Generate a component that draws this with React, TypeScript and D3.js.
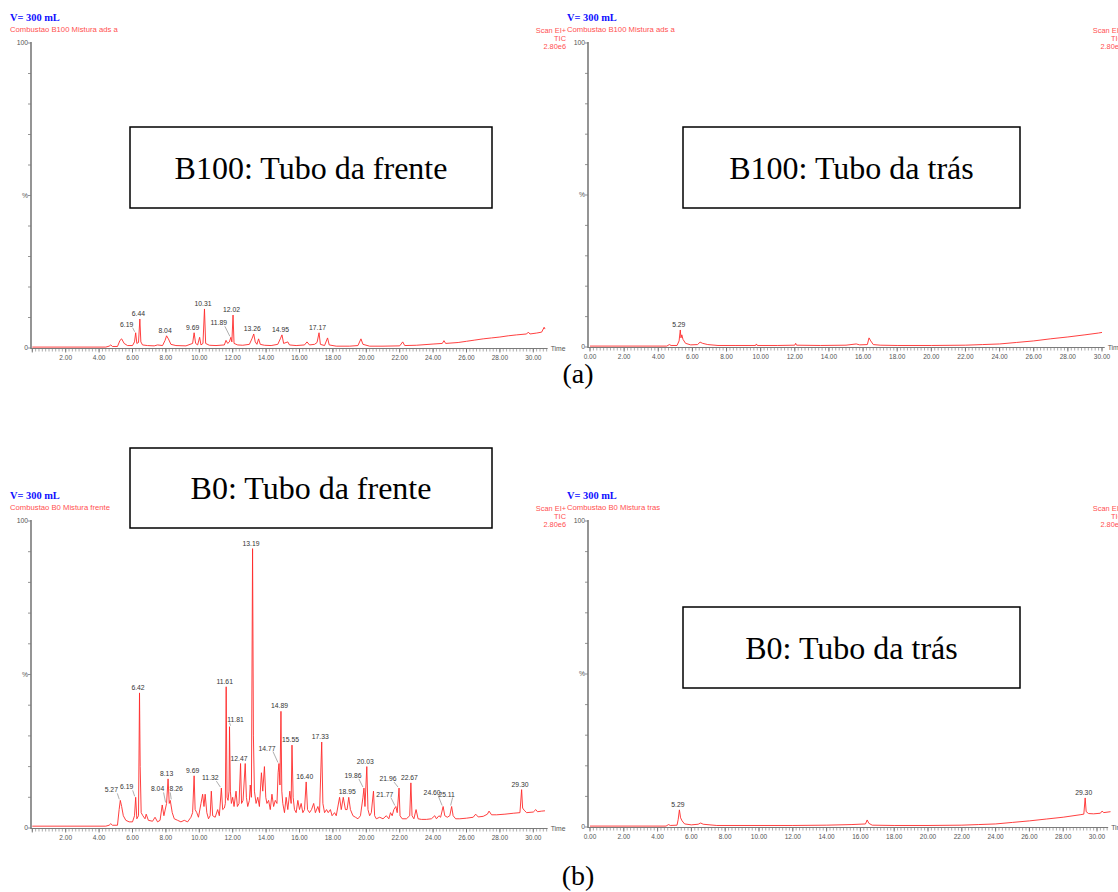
import React, { useRef, useEffect } from 'react'
import * as d3 from 'd3'

// chromatograms: [retention time (min), intensity (%)]
const b100FrontTrace: [number, number][] = [
  [0, 0.3], [4.4, 0.3], [4.6, 0.6], [4.7, 1.0], [4.8, 0.5], [5.1, 0.5], [5.25, 2.5], [5.35, 3],
  [5.5, 1.5], [5.7, 0.8], [6.0, 0.8], [6.12, 2], [6.19, 5], [6.26, 1.5], [6.36, 1.8], [6.44, 9.5],
  [6.5, 2], [6.6, 1], [6.9, 0.8], [7.3, 0.7], [7.5, 1], [7.8, 0.8], [7.95, 2.5], [8.04, 4], [8.15, 3],
  [8.3, 1.2], [8.6, 0.8], [9.2, 0.7], [9.6, 1.5], [9.69, 5], [9.78, 1.5], [9.9, 1], [10.02, 3.5],
  [10.1, 1], [10.22, 1.5], [10.31, 12.8], [10.38, 1.5], [10.6, 0.9], [11.0, 0.8], [11.5, 1],
  [11.6, 2.5], [11.7, 1.5], [11.8, 2], [11.89, 3.5], [11.95, 2], [12.02, 10.8], [12.08, 1.5],
  [12.3, 1], [12.6, 0.9], [13.0, 1.2], [13.15, 3], [13.26, 4.6], [13.35, 2], [13.45, 1.2],
  [13.55, 3], [13.65, 1.2], [13.9, 0.9], [14.3, 0.8], [14.7, 1.2], [14.85, 3], [14.95, 4.3],
  [15.05, 1.5], [15.3, 2], [15.4, 1], [15.8, 0.8], [16.3, 1], [16.45, 2], [16.6, 1], [16.9, 1.2],
  [17.05, 1.8], [17.17, 5], [17.25, 1.2], [17.5, 0.8], [17.68, 3.3], [17.78, 1], [18.2, 0.6],
  [19.0, 0.6], [19.5, 0.8], [19.68, 3], [19.8, 1.2], [20.2, 0.6], [21.0, 0.6], [22.0, 0.7],
  [22.18, 2], [22.3, 0.8], [23.0, 0.9], [24.0, 1.3], [24.55, 1.5], [24.65, 2.4], [24.75, 1.5],
  [25.5, 1.8], [26, 2.2], [26.5, 2.6], [27, 3], [27.5, 3.3], [28, 3.6], [28.5, 4], [29, 4.3],
  [29.6, 4.6], [29.7, 5.2], [29.8, 4.6], [30.2, 4.9], [30.5, 5.2], [30.65, 6.8], [30.7, 6.2],
]

const b100BackTrace: [number, number][] = [
  [0, 0.3], [4.5, 0.3], [4.65, 0.8], [4.75, 0.5], [5.1, 0.5], [5.22, 2], [5.29, 5.6], [5.33, 3],
  [5.38, 4], [5.45, 2.5], [5.6, 1.2], [5.9, 0.7], [6.3, 0.8], [6.45, 1.6], [6.6, 1.2], [6.9, 0.8],
  [7.5, 0.5], [8.5, 0.5], [9.7, 0.5], [9.75, 1], [9.8, 0.5], [11.0, 0.5], [12.0, 0.6], [12.05, 1.2],
  [12.1, 0.6], [13.5, 0.5], [15.0, 0.6], [15.6, 1], [15.8, 0.7], [16.25, 0.8], [16.35, 3],
  [16.45, 2], [16.6, 0.8], [17, 0.6], [18, 0.5], [20, 0.5], [22, 0.6], [23, 0.8], [24, 1],
  [25, 1.5], [26, 2], [27, 2.7], [28, 3.3], [29, 4], [29.8, 4.6], [30, 4.8],
]

const b0FrontTrace: [number, number][] = [
  [0, 0.6], [4.4, 0.6], [4.6, 0.9], [4.7, 1.4], [4.8, 0.9], [5.1, 0.9], [5.2, 6], [5.27, 9],
  [5.35, 7], [5.45, 4], [5.6, 2.5], [5.8, 2], [6.0, 2], [6.12, 4], [6.19, 10], [6.26, 3], [6.36, 4],
  [6.42, 44], [6.46, 20], [6.52, 5], [6.62, 4], [6.75, 3], [6.82, 4.5], [6.95, 2.5], [7.2, 2.2],
  [7.35, 3.5], [7.5, 2], [7.65, 2.5], [7.78, 7.5], [7.88, 4], [8.04, 8], [8.13, 16], [8.2, 8],
  [8.26, 9], [8.38, 5], [8.5, 3], [8.7, 2.5], [8.9, 2], [9.1, 2.5], [9.3, 2], [9.5, 3.5], [9.6, 5],
  [9.69, 17], [9.75, 6], [9.85, 5], [9.95, 3.5], [10.1, 8], [10.2, 11], [10.28, 7], [10.35, 11],
  [10.45, 5], [10.55, 3], [10.65, 4], [10.72, 12], [10.8, 4], [10.95, 3.5], [11.1, 6], [11.2, 4],
  [11.32, 13], [11.4, 6], [11.5, 6.5], [11.56, 8], [11.61, 46], [11.66, 10], [11.72, 9],
  [11.78, 12], [11.81, 33], [11.86, 12], [11.92, 8], [12.0, 10], [12.08, 7], [12.2, 12],
  [12.28, 7], [12.38, 8], [12.47, 21], [12.53, 8], [12.62, 9], [12.75, 21], [12.82, 10], [12.9, 7],
  [13.0, 9], [13.05, 14], [13.12, 10], [13.19, 91], [13.24, 30], [13.3, 12], [13.4, 8], [13.5, 10],
  [13.6, 7], [13.72, 18], [13.8, 12], [13.9, 20], [13.98, 10], [14.05, 8], [14.15, 9], [14.25, 6],
  [14.35, 11], [14.45, 7], [14.55, 9], [14.65, 8], [14.72, 18], [14.77, 21], [14.83, 14],
  [14.89, 38], [14.94, 12], [15.0, 8], [15.1, 5], [15.2, 10], [15.3, 6], [15.42, 12], [15.5, 8],
  [15.55, 27], [15.62, 10], [15.7, 6], [15.8, 5], [15.9, 9], [16.0, 6], [16.1, 8], [16.2, 5],
  [16.3, 6], [16.4, 15], [16.48, 6], [16.6, 5], [16.72, 6], [16.85, 8], [16.95, 5], [17.1, 7],
  [17.2, 5], [17.33, 28], [17.4, 8], [17.5, 5], [17.62, 6], [17.72, 5], [17.85, 6], [17.95, 4],
  [18.1, 5], [18.2, 4], [18.4, 10], [18.5, 6], [18.62, 10], [18.75, 6], [18.85, 6], [18.95, 10],
  [19.05, 6], [19.2, 4], [19.35, 3.5], [19.5, 3], [19.65, 4], [19.8, 10], [19.86, 13], [19.92, 7],
  [20.03, 20], [20.1, 6], [20.2, 4], [20.3, 5], [20.43, 12], [20.5, 4], [20.6, 3], [20.8, 3.5],
  [21.0, 3], [21.2, 4], [21.35, 3], [21.45, 5], [21.55, 4], [21.65, 6], [21.77, 7], [21.85, 5],
  [21.96, 13], [22.02, 4], [22.15, 3], [22.4, 3], [22.6, 4], [22.67, 14.7], [22.74, 4], [22.85, 3],
  [22.98, 6], [23.1, 3], [23.3, 2.8], [23.6, 2.8], [23.9, 3], [24.1, 4], [24.2, 3], [24.35, 4],
  [24.45, 3.5], [24.6, 7], [24.7, 4], [24.85, 3.5], [25.0, 4], [25.11, 7], [25.2, 4], [25.35, 3],
  [25.6, 3], [26, 3.2], [26.4, 3.5], [26.55, 4.5], [26.7, 3.6], [27.0, 3.8], [27.25, 4.5],
  [27.35, 5.5], [27.5, 4.3], [27.8, 4.3], [28.3, 4.5], [28.8, 4.8], [29.2, 5], [29.3, 12.5],
  [29.36, 6.5], [29.45, 5.8], [29.6, 5], [30.0, 5.2], [30.15, 6], [30.25, 5.3], [30.5, 5.5],
  [30.7, 5.6],
]

const b0BackTrace: [number, number][] = [
  [0, 0.3], [4.5, 0.3], [4.65, 0.8], [4.75, 0.5], [5.15, 0.6], [5.22, 2.5], [5.29, 5.6], [5.36, 3],
  [5.45, 2], [5.6, 1], [6.0, 0.7], [6.4, 0.9], [6.55, 1.3], [6.7, 0.9], [7.5, 0.5], [10, 0.5],
  [12, 0.5], [14, 0.6], [15.5, 0.8], [16.3, 1], [16.4, 2.3], [16.5, 1.2], [16.7, 0.6], [18, 0.5],
  [20, 0.5], [22, 0.6], [23, 0.8], [24, 1], [25, 1.5], [26, 2], [27, 2.6], [28, 3.2], [29, 4],
  [29.22, 4.2], [29.3, 9.5], [29.36, 5], [29.5, 4.4], [29.8, 4.3], [30.2, 4.5], [30.3, 5.2],
  [30.4, 4.7], [30.8, 5],
]

// labelled peaks
const b100FrontPeaks = ['6.19', '6.44', '8.04', '9.69', '10.31', '11.89', '12.02', '13.26', '14.95', '17.17']
const b100BackPeaks = ['5.29']
const b0FrontPeaks = [
  '5.27', '6.19', '6.42', '8.04', '8.13', '8.26', '9.69', '11.32', '11.61', '11.81', '12.47', '13.19',
  '14.77', '14.89', '15.55', '16.40', '17.33', '18.95', '19.86', '20.03', '21.77', '21.96', '22.67',
  '24.60', '25.11', '29.30',
]
const b0BackPeaks = ['5.29', '29.30']

const xMajorTicks = d3.range(0, 31, 2)
const xMinorTicks = d3.range(0, 30.81, 0.2)
const yTicks = d3.range(0, 101, 10)
const yTickLabels: Record<number, string> = { 0: '0', 50: '%', 100: '100' }

// label offsets from the peak top (those pushed aside get a leader line)
const labelShift: Record<string, [number, number]> = {
  'b100f 6.19': [-9, -3], 'b100f 11.89': [-12, -9],
  'b0f 5.27': [-9, -5], 'b0f 6.19': [-9, -5], 'b0f 8.04': [-9, -9], 'b0f 8.26': [6, -6],
  'b0f 11.32': [-11, -5], 'b0f 11.81': [6, -2], 'b0f 14.77': [-12, -10], 'b0f 19.86': [-11, -7],
  'b0f 21.77': [-11, -7], 'b0f 21.96': [-11, -4], 'b0f 24.60': [-11, -9], 'b0f 25.11': [-5, -7],
}

const panels = [
  { key: 'b100f', trace: b100FrontTrace, peaks: b100FrontPeaks, title: 'Combustao B100 Mistura ads a', axisX: 31, x0: 32.3, x30: 533.3, end: 30.8, top: 43, bottom: 348, zeroLabel: false },
  { key: 'b100t', trace: b100BackTrace, peaks: b100BackPeaks, title: 'Combustao B100 Mistura ads a', axisX: 588, x0: 590, x30: 1102, end: 30.1, top: 43, bottom: 347, zeroLabel: true },
  { key: 'b0f', trace: b0FrontTrace, peaks: b0FrontPeaks, title: 'Combustao B0 Mistura frente', axisX: 31, x0: 32.3, x30: 533.3, end: 30.8, top: 521, bottom: 828, zeroLabel: false },
  { key: 'b0t', trace: b0BackTrace, peaks: b0BackPeaks, title: 'Combustao B0 Mistura tras', axisX: 588, x0: 590, x30: 1097, end: 30.6, top: 521, bottom: 827, zeroLabel: true },
]

const boxes = [
  { text: 'B100: Tubo da frente', x: 130, y: 127, w: 362, h: 81 },
  { text: 'B100: Tubo da trás', x: 683, y: 127, w: 337, h: 81 },
  { text: 'B0: Tubo da frente', x: 130, y: 448, w: 362, h: 80 },
  { text: 'B0: Tubo da trás', x: 683, y: 607, w: 337, h: 81 },
]

const captions = [
  { text: '(a)', x: 578, y: 375 },
  { text: '(b)', x: 578, y: 877 },
]

const SANS = 'Arial, "Liberation Sans", sans-serif'
const SERIF = '"Times New Roman", "Liberation Serif", serif'

function App() {
  const svgRef = useRef<SVGSVGElement>(null)

  useEffect(() => {
    const svg = d3.select(svgRef.current)
    svg.selectAll('*').remove()
    svg.append('rect').attr('width', 1118).attr('height', 892).attr('fill', '#fff')

    panels.forEach((p) => {
      const g = svg.append('g')
      const x = d3.scaleLinear().domain([0, 30]).range([p.x0, p.x30])
      const y = d3.scaleLinear().domain([0, 100]).range([p.bottom, p.top])
      const axisEnd = x(p.end) + 1

      // header texts
      g.append('text')
        .attr('x', p.axisX - 21).attr('y', p.top - 22)
        .attr('font-family', SERIF).attr('font-weight', 'bold').attr('font-size', 10.4)
        .attr('fill', '#1010ff').text('V= 300 mL')
      g.append('text')
        .attr('x', p.axisX - 21).attr('y', p.top - 11.5)
        .attr('font-family', SANS).attr('font-size', 7.7)
        .attr('fill', '#ff5050').text(p.title)
      ;['Scan EI+', 'TIC', '2.80e6'].forEach((t, i) => {
        g.append('text')
          .attr('x', p.axisX + 535).attr('y', p.top - 10.5 + i * 8)
          .attr('text-anchor', 'end')
          .attr('font-family', SANS).attr('font-size', 7.4)
          .attr('fill', '#ff5050').text(t)
      })

      // y axis
      g.append('line')
        .attr('x1', p.axisX).attr('x2', p.axisX)
        .attr('y1', y(100) - 1).attr('y2', p.bottom + 1)
        .attr('stroke', '#7a7a7a').attr('stroke-width', 1.6)
      g.selectAll('.ytick').data(yTicks).join('line')
        .attr('x1', p.axisX - 3).attr('x2', p.axisX)
        .attr('y1', (d) => y(d)).attr('y2', (d) => y(d))
        .attr('stroke', '#7a7a7a').attr('stroke-width', 0.8)
      g.selectAll('.ylab').data(yTicks.filter((d) => yTickLabels[d] !== undefined)).join('text')
        .attr('x', p.axisX - 3).attr('y', (d) => y(d) + 2.2)
        .attr('text-anchor', 'end')
        .attr('font-family', SANS).attr('font-size', 6.8)
        .attr('fill', '#555').text((d) => yTickLabels[d])

      // x axis
      g.append('line')
        .attr('x1', p.axisX).attr('x2', axisEnd)
        .attr('y1', p.bottom + 0.5).attr('y2', p.bottom + 0.5)
        .attr('stroke', '#7a7a7a').attr('stroke-width', 1.2)
      g.selectAll('.xminor').data(xMinorTicks.filter((d) => d <= p.end)).join('line')
        .attr('x1', (d) => x(d)).attr('x2', (d) => x(d))
        .attr('y1', p.bottom + 1).attr('y2', p.bottom + 3.5)
        .attr('stroke', '#888').attr('stroke-width', 0.7)
      g.selectAll('.xmajor').data(xMajorTicks).join('line')
        .attr('x1', (d) => x(d)).attr('x2', (d) => x(d))
        .attr('y1', p.bottom + 1).attr('y2', p.bottom + 4.5)
        .attr('stroke', '#666').attr('stroke-width', 0.8)
      g.selectAll('.xlab').data(xMajorTicks.filter((d) => p.zeroLabel || d > 0)).join('text')
        .attr('x', (d) => x(d)).attr('y', p.bottom + 11.5)
        .attr('text-anchor', 'middle')
        .attr('font-family', SANS).attr('font-size', 6.5)
        .attr('fill', '#555').text((d) => d3.format('.2f')(d))
      g.append('text')
        .attr('x', axisEnd + 3).attr('y', p.bottom + 2.5)
        .attr('font-family', SANS).attr('font-size', 6.8)
        .attr('fill', '#555').text('Time')

      // trace
      const line = d3.line<[number, number]>().x((d) => x(d[0])).y((d) => y(d[1]))
      g.append('path')
        .attr('d', line(p.trace))
        .attr('fill', 'none').attr('stroke', '#ff2a2a')
        .attr('stroke-width', 0.9).attr('stroke-linejoin', 'round')

      // peak labels
      p.peaks.forEach((lab) => {
        const t = +lab
        const pt = d3.least(p.trace, (d) => Math.abs(d[0] - t))!
        const px = x(pt[0])
        const py = y(pt[1])
        const shift = labelShift[`${p.key} ${lab}`]
        const [dx, dy] = shift ?? [-1.5, 0]
        const lx = px + dx
        const ly = py - 3 + dy
        if (shift && Math.abs(dx) > 4) {
          const ex = dx < 0 ? lx + 6 : lx - 6
          g.append('line')
            .attr('x1', ex).attr('y1', ly + 1)
            .attr('x2', px + (dx < 0 ? -1 : 1)).attr('y2', py - 1)
            .attr('stroke', '#777').attr('stroke-width', 0.6)
        }
        g.append('text')
          .attr('x', lx).attr('y', ly)
          .attr('text-anchor', 'middle')
          .attr('font-family', SANS).attr('font-size', 6.8)
          .attr('fill', '#333').text(lab)
      })
    })

    // annotation boxes
    boxes.forEach((b) => {
      svg.append('rect')
        .attr('x', b.x).attr('y', b.y).attr('width', b.w).attr('height', b.h)
        .attr('fill', '#fff').attr('stroke', '#000').attr('stroke-width', 1.5)
      svg.append('text')
        .attr('x', b.x + b.w / 2).attr('y', b.y + b.h / 2 + 11)
        .attr('text-anchor', 'middle')
        .attr('font-family', SERIF).attr('font-size', 32)
        .attr('fill', '#000').text(b.text)
    })

    captions.forEach((c) => {
      svg.append('text')
        .attr('x', c.x).attr('y', c.y + 8)
        .attr('text-anchor', 'middle')
        .attr('font-family', SERIF).attr('font-size', 28)
        .attr('fill', '#000').text(c.text)
    })
  }, [])

  return (
    <svg
      ref={svgRef}
      width={1118}
      height={892}
      style={{ position: 'absolute', left: 0, top: 0, display: 'block' }}
    />
  )
}

export default App
